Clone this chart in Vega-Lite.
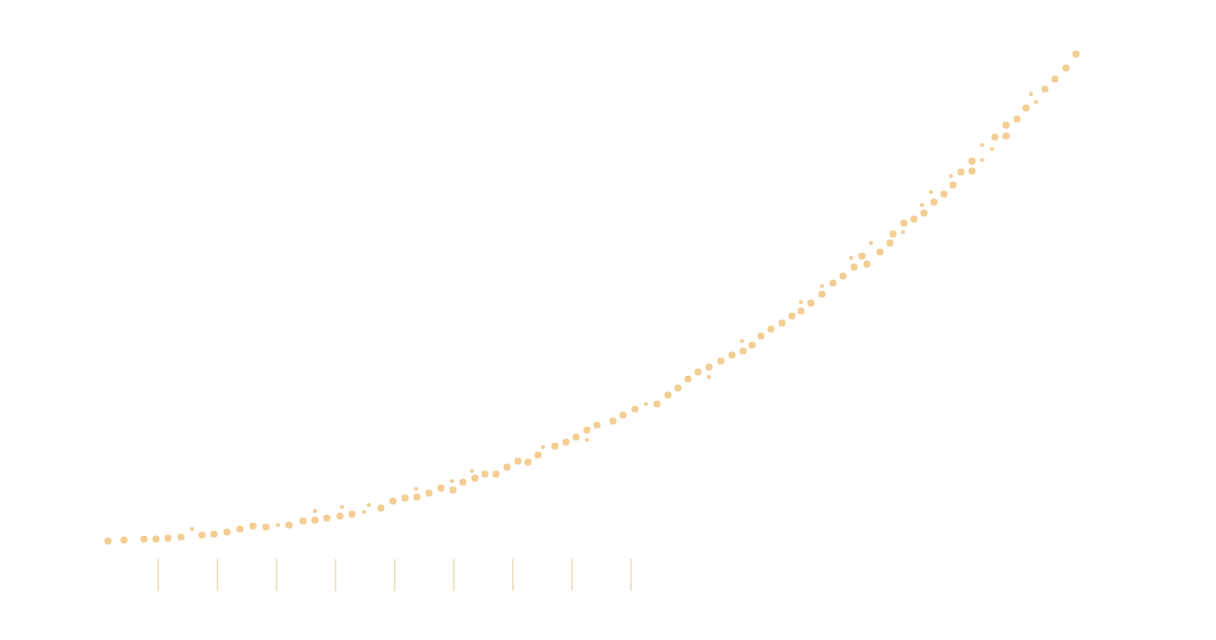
{
  "$schema": "https://vega.github.io/schema/vega-lite/v6.json",
  "width": 1216,
  "height": 640,
  "autosize": {"type": "fit", "contains": "padding"},
  "padding": 0,
  "background": "white",
  "config": {"view": {"stroke": null}},
  "datasets": {
    "points": [
      {"t": 1.49, "v": 11.8, "kind": "major"},
      {"t": 4.20, "v": 12.0, "kind": "major"},
      {"t": 7.58, "v": 12.2, "kind": "major"},
      {"t": 9.61, "v": 12.2, "kind": "major"},
      {"t": 11.64, "v": 12.4, "kind": "major"},
      {"t": 13.84, "v": 12.6, "kind": "major"},
      {"t": 15.70, "v": 14.2, "kind": "minor"},
      {"t": 17.39, "v": 13.0, "kind": "major"},
      {"t": 19.42, "v": 13.2, "kind": "major"},
      {"t": 21.62, "v": 13.6, "kind": "major"},
      {"t": 23.82, "v": 14.2, "kind": "major"},
      {"t": 26.02, "v": 14.8, "kind": "major"},
      {"t": 28.22, "v": 14.6, "kind": "major"},
      {"t": 30.25, "v": 15.0, "kind": "minor"},
      {"t": 32.12, "v": 15.0, "kind": "major"},
      {"t": 34.48, "v": 15.8, "kind": "major"},
      {"t": 36.51, "v": 16.0, "kind": "major"},
      {"t": 36.51, "v": 17.8, "kind": "minor"},
      {"t": 38.54, "v": 16.4, "kind": "major"},
      {"t": 40.74, "v": 16.8, "kind": "major"},
      {"t": 41.08, "v": 18.6, "kind": "minor"},
      {"t": 42.77, "v": 17.2, "kind": "major"},
      {"t": 44.81, "v": 17.6, "kind": "minor"},
      {"t": 45.65, "v": 19.0, "kind": "minor"},
      {"t": 47.68, "v": 18.4, "kind": "major"},
      {"t": 49.71, "v": 19.8, "kind": "major"},
      {"t": 51.74, "v": 20.4, "kind": "major"},
      {"t": 53.77, "v": 20.6, "kind": "major"},
      {"t": 53.60, "v": 22.2, "kind": "minor"},
      {"t": 55.80, "v": 21.4, "kind": "major"},
      {"t": 57.83, "v": 22.4, "kind": "major"},
      {"t": 59.86, "v": 22.0, "kind": "major"},
      {"t": 59.70, "v": 23.8, "kind": "minor"},
      {"t": 61.56, "v": 23.6, "kind": "major"},
      {"t": 63.08, "v": 25.8, "kind": "minor"},
      {"t": 63.59, "v": 24.4, "kind": "major"},
      {"t": 65.28, "v": 25.2, "kind": "major"},
      {"t": 67.14, "v": 25.2, "kind": "major"},
      {"t": 69.00, "v": 26.6, "kind": "major"},
      {"t": 70.86, "v": 27.8, "kind": "major"},
      {"t": 72.56, "v": 27.6, "kind": "major"},
      {"t": 74.25, "v": 29.0, "kind": "major"},
      {"t": 75.09, "v": 30.6, "kind": "minor"},
      {"t": 77.12, "v": 30.8, "kind": "major"},
      {"t": 78.98, "v": 31.6, "kind": "major"},
      {"t": 80.68, "v": 32.6, "kind": "major"},
      {"t": 82.54, "v": 34.0, "kind": "major"},
      {"t": 82.54, "v": 32.0, "kind": "minor"},
      {"t": 84.23, "v": 35.0, "kind": "major"},
      {"t": 86.94, "v": 35.8, "kind": "major"},
      {"t": 88.63, "v": 37.0, "kind": "major"},
      {"t": 90.66, "v": 38.2, "kind": "major"},
      {"t": 92.52, "v": 39.2, "kind": "minor"},
      {"t": 94.38, "v": 39.2, "kind": "major"},
      {"t": 96.24, "v": 41.0, "kind": "major"},
      {"t": 97.94, "v": 42.4, "kind": "major"},
      {"t": 99.63, "v": 44.2, "kind": "major"},
      {"t": 101.32, "v": 45.6, "kind": "major"},
      {"t": 103.18, "v": 46.6, "kind": "major"},
      {"t": 103.18, "v": 44.6, "kind": "minor"},
      {"t": 105.21, "v": 47.8, "kind": "major"},
      {"t": 107.07, "v": 49.0, "kind": "major"},
      {"t": 108.93, "v": 49.8, "kind": "major"},
      {"t": 108.76, "v": 51.8, "kind": "minor"},
      {"t": 110.46, "v": 51.0, "kind": "major"},
      {"t": 111.98, "v": 52.8, "kind": "major"},
      {"t": 113.67, "v": 54.2, "kind": "major"},
      {"t": 115.53, "v": 55.4, "kind": "major"},
      {"t": 117.23, "v": 56.8, "kind": "major"},
      {"t": 118.75, "v": 57.8, "kind": "major"},
      {"t": 118.75, "v": 59.6, "kind": "minor"},
      {"t": 120.44, "v": 59.4, "kind": "major"},
      {"t": 122.30, "v": 61.2, "kind": "major"},
      {"t": 122.30, "v": 62.8, "kind": "minor"},
      {"t": 124.16, "v": 63.4, "kind": "major"},
      {"t": 125.85, "v": 64.8, "kind": "major"},
      {"t": 127.72, "v": 66.6, "kind": "major"},
      {"t": 127.21, "v": 68.4, "kind": "minor"},
      {"t": 129.07, "v": 68.8, "kind": "major"},
      {"t": 129.92, "v": 67.2, "kind": "major"},
      {"t": 130.59, "v": 71.4, "kind": "minor"},
      {"t": 132.12, "v": 69.6, "kind": "major"},
      {"t": 133.81, "v": 71.4, "kind": "major"},
      {"t": 134.31, "v": 73.2, "kind": "major"},
      {"t": 136.01, "v": 73.6, "kind": "minor"},
      {"t": 136.18, "v": 75.4, "kind": "major"},
      {"t": 137.87, "v": 76.2, "kind": "major"},
      {"t": 139.56, "v": 77.4, "kind": "major"},
      {"t": 139.22, "v": 79.0, "kind": "minor"},
      {"t": 141.25, "v": 79.6, "kind": "major"},
      {"t": 140.74, "v": 81.6, "kind": "minor"},
      {"t": 142.94, "v": 81.2, "kind": "major"},
      {"t": 144.47, "v": 83.0, "kind": "major"},
      {"t": 144.13, "v": 84.8, "kind": "minor"},
      {"t": 145.82, "v": 85.6, "kind": "major"},
      {"t": 147.68, "v": 85.8, "kind": "major"},
      {"t": 147.68, "v": 87.8, "kind": "major"},
      {"t": 149.37, "v": 88.0, "kind": "minor"},
      {"t": 149.37, "v": 91.0, "kind": "minor"},
      {"t": 151.07, "v": 90.2, "kind": "minor"},
      {"t": 151.57, "v": 92.6, "kind": "major"},
      {"t": 153.43, "v": 92.8, "kind": "major"},
      {"t": 153.43, "v": 95.0, "kind": "major"},
      {"t": 155.30, "v": 96.2, "kind": "major"},
      {"t": 156.82, "v": 98.4, "kind": "major"},
      {"t": 158.51, "v": 99.6, "kind": "minor"},
      {"t": 157.66, "v": 101.2, "kind": "minor"},
      {"t": 160.03, "v": 102.2, "kind": "major"},
      {"t": 161.73, "v": 104.2, "kind": "major"},
      {"t": 163.59, "v": 106.4, "kind": "major"},
      {"t": 165.28, "v": 109.2, "kind": "major"}
    ],
    "marks": [
      {"t": 10}, {"t": 20}, {"t": 30}, {"t": 40}, {"t": 50},
      {"t": 60}, {"t": 70}, {"t": 80}, {"t": 90}
    ]
  },
  "layer": [
    {
      "data": {"name": "marks"},
      "mark": {"type": "rule", "color": "#f4dbb8", "strokeWidth": 1.5},
      "encoding": {
        "x": {"field": "t", "type": "quantitative", "scale": {"domain": [-16.785, 188.97], "nice": false, "zero": false}, "axis": null},
        "y": {"datum": 8.2, "type": "quantitative", "scale": {"domain": [-8, 120], "nice": false, "zero": false}, "axis": null},
        "y2": {"datum": 1.8}
      }
    },
    {
      "data": {"name": "points"},
      "mark": {"type": "circle", "color": "#f4cd92", "opacity": 1},
      "encoding": {
        "x": {"field": "t", "type": "quantitative", "scale": {"domain": [-16.785, 188.97], "nice": false, "zero": false}, "axis": null},
        "y": {"field": "v", "type": "quantitative", "scale": {"domain": [-8, 120], "nice": false, "zero": false}, "axis": null},
        "size": {"field": "kind", "type": "nominal", "scale": {"domain": ["major", "minor"], "range": [52, 18]}, "legend": null}
      }
    }
  ]
}
